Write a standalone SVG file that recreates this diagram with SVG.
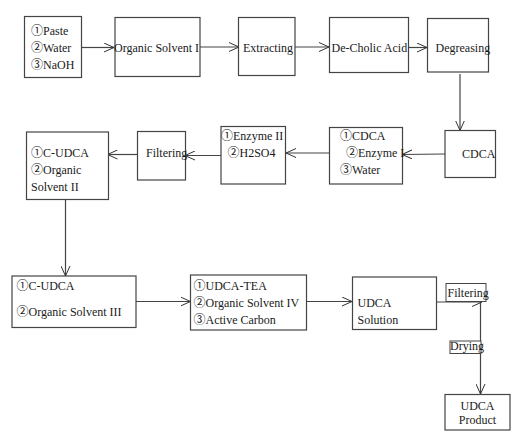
<svg xmlns="http://www.w3.org/2000/svg" width="522" height="442" viewBox="0 0 522 442">
<defs>
<marker id="arr" markerUnits="userSpaceOnUse" markerWidth="12" markerHeight="10" refX="10" refY="5" orient="auto">
<path d="M0,0.5 L10,5 L0,9.5" fill="none" stroke="#333" stroke-width="1"/>
</marker>
</defs>
<style>
rect{fill:#fff;stroke:#444;stroke-width:1.2}
text{font-family:"Liberation Serif","Noto Sans CJK SC",serif;font-size:12px;fill:#1a1a1a}
.c line,.c polyline{stroke:#444;stroke-width:1.2;fill:none;marker-end:url(#arr)}
.lbl{fill:#fff;stroke:#444;stroke-width:1}
</style>
<rect x="0" y="0" width="522" height="442" style="fill:#fff;stroke:none"/>
<g class="c" id="connectors">
<line x1="82" y1="47.5" x2="114" y2="47.5"/>
<line x1="200" y1="47" x2="239" y2="47"/>
<line x1="295" y1="47" x2="329" y2="47"/>
<line x1="408" y1="47.5" x2="427" y2="47.5"/>
<line x1="460" y1="74" x2="460" y2="130.5"/>
<line x1="445" y1="154" x2="402" y2="154.5"/>
<line x1="329" y1="153" x2="286" y2="153"/>
<line x1="221" y1="155.5" x2="185" y2="155.5"/>
<line x1="137" y1="154.5" x2="107.5" y2="154.5"/>
<line x1="65.5" y1="199.5" x2="65.5" y2="276"/>
<line x1="136" y1="301.5" x2="190.5" y2="301.5"/>
<line x1="306.5" y1="301.5" x2="352" y2="301.5"/>
<line x1="436.5" y1="302" x2="482" y2="302"/>
<line x1="480.5" y1="302" x2="480.5" y2="394"/>
</g>
<g id="n1"><rect x="24.5" y="16.5" width="57" height="61"/><text x="31" y="35">①Paste</text><text x="31" y="52">②Water</text><text x="31" y="69">③NaOH</text></g>
<g id="n2"><rect x="115" y="17.5" width="85" height="59"/><text x="114" y="52">Organic Solvent I</text></g>
<g id="n3"><rect x="238.5" y="17.5" width="56.5" height="58"/><text x="243" y="52">Extracting</text></g>
<g id="n4"><rect x="329.5" y="17.5" width="79" height="55"/><text x="331.5" y="52">De-Cholic Acid</text></g>
<g id="n5"><rect x="427.5" y="18.5" width="61" height="53.5"/><text x="435.5" y="52">Degreasing</text></g>
<g id="n6"><rect x="445" y="130.5" width="50.5" height="47"/><text x="462" y="158">CDCA</text></g>
<g id="n7"><rect x="329.5" y="127.5" width="73" height="56.5"/><text x="340" y="140">①CDCA</text><text x="346" y="157">②Enzyme I</text><text x="340" y="174">③Water</text></g>
<g id="n8"><rect x="221" y="126.5" width="64.5" height="57.5"/><text x="221" y="140">①Enzyme II</text><text x="227.5" y="157">②H2SO4</text></g>
<g id="n9"><rect x="137.5" y="131.5" width="48" height="48.5"/><text x="146" y="157">Filtering</text></g>
<g id="n10"><rect x="26.5" y="132" width="82" height="67.5"/><text x="31" y="157">①C-UDCA</text><text x="31" y="174">②Organic</text><text x="31" y="191">Solvent II</text></g>
<g id="n11"><rect x="12" y="276" width="124" height="51.5"/><text x="16.5" y="289.5">①C-UDCA</text><text x="16.5" y="315.5">②Organic Solvent III</text></g>
<g id="n12"><rect x="190.5" y="275" width="116" height="55"/><text x="193.5" y="289.5">①UDCA-TEA</text><text x="193.5" y="306.5">②Organic Solvent IV</text><text x="193.5" y="324">③Active Carbon</text></g>
<g id="n13"><rect x="352.5" y="277" width="84" height="52.5"/><text x="357.5" y="306.5">UDCA</text><text x="357.5" y="324">Solution</text></g>
<g id="l1"><rect class="lbl" x="446" y="283.5" width="40" height="18"/><text x="447.5" y="296.5">Filtering</text></g>
<g id="l2"><rect class="lbl" x="450" y="341" width="31" height="12.5"/><text x="450" y="349.5">Drying</text></g>
<g id="n14"><rect x="445" y="394.5" width="65" height="35.5"/><text x="477.5" y="409.5" text-anchor="middle">UDCA</text><text x="477.5" y="423.5" text-anchor="middle">Product</text></g>
</svg>
